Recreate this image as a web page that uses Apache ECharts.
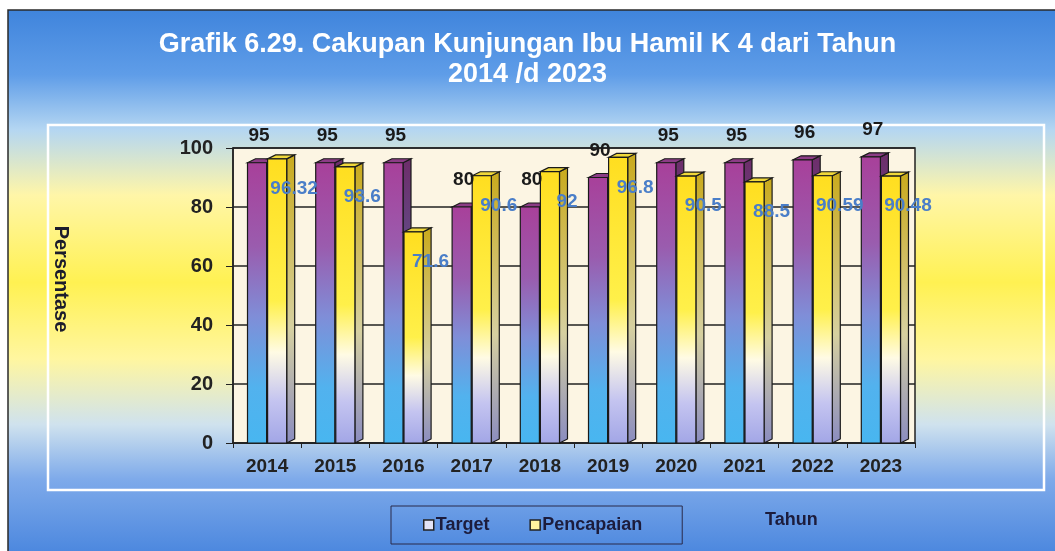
<!DOCTYPE html>
<html>
<head>
<meta charset="utf-8">
<script src="https://cdn.jsdelivr.net/npm/echarts@6/dist/echarts.min.js"></script>
<style>
  html, body { margin: 0; padding: 0; background: #fff; }
  #chart { width: 1055px; height: 551px; }
</style>
</head>
<body>
<div id="chart"></div>
<script>
// data
const years = ['2014', '2015', '2016', '2017', '2018', '2019', '2020', '2021', '2022', '2023'];
const target = [95, 95, 95, 80, 80, 90, 95, 95, 96, 97];
const pencapaian = [96.32, 93.6, 71.6, 90.6, 92, 96.8, 90.5, 88.5, 90.59, 90.48];
const yTicks = [0, 20, 40, 60, 80, 100];

const FONT = '"Liberation Sans", Arial, sans-serif';
const DX = 8, DY = 4;   // fake 3d depth

const styles = {
  target: {
    front: [[0, '#a8409a'], [0.3, '#9a5cae'], [0.55, '#7f8ed8'], [0.8, '#52b2ee'], [1, '#48b6f0']],
    side: [[0, '#6e2d6a'], [0.5, '#5a5a96'], [1, '#3a78b0']],
    top: '#8c3c86',
    label: '#1a1a1a'
  },
  pencapaian: {
    front: [[0, '#ffde20'], [0.5, '#fff04a'], [0.68, '#fffbe4'], [0.85, '#c4c4f0'], [1, '#a2a6e6']],
    side: [[0, '#c9aa1c'], [0.6, '#d6d0a0'], [1, '#8a8cc0']],
    top: '#f0d83a',
    label: '#4a7ec8'
  }
};

function grad(stops) {
  return new echarts.graphic.LinearGradient(0, 0, 0, 1, stops.map(s => ({offset: s[0], color: s[1]})));
}

function barRenderer(kind) {
  const st = styles[kind];
  return function (params, api) {
    const cat = api.value(0), val = api.value(1);
    const p = api.coord([cat, val]);
    const p0 = api.coord([cat, 0]);
    const catW = api.size([1, 0])[0];
    const bw = catW * 0.28;
    const x = kind == 'target' ? p[0] - bw - 0.5 : p[0] + 0.5;
    const yT = p[1], yB = p0[1];
    const line = {stroke: '#1a1a1a', lineWidth: 1.2};
    const children = [
      {type: 'polygon', shape: {points: [[x + bw, yT], [x + bw + DX, yT - DY], [x + bw + DX, yB - DY], [x + bw, yB]]},
        style: Object.assign({fill: grad(st.side)}, line)},
      {type: 'polygon', shape: {points: [[x, yT], [x + DX, yT - DY], [x + bw + DX, yT - DY], [x + bw, yT]]},
        style: Object.assign({fill: st.top}, line)},
      {type: 'rect', shape: {x: x, y: yT, width: bw, height: yB - yT},
        style: Object.assign({fill: grad(st.front)}, line)}
    ];
    let lx, ly;
    if (kind == 'target') { lx = x + bw / 2 + 2; ly = yT - 27; }
    else { lx = x + bw / 2 + 17; ly = yT + 30; }
    children.push({type: 'text', z2: 10, style: {
      text: String(val), x: lx, y: ly, align: 'center', verticalAlign: 'middle',
      font: 'bold 19px ' + FONT, fill: st.label
    }});
    return {type: 'group', children: children};
  };
}

const chart = echarts.init(document.getElementById('chart'));
chart.setOption({
  animation: false,
  title: {
    text: 'Grafik 6.29. Cakupan Kunjungan Ibu Hamil K 4 dari Tahun\n2014 /d 2023',
    left: 'center',
    top: 25,
    textStyle: {color: '#ffffff', fontFamily: FONT, fontWeight: 'bold', fontSize: 27, lineHeight: 30}
  },
  graphic: [
    {type: 'rect', z: -10, silent: true, shape: {x: 8, y: 10, width: 1052, height: 545},
      style: {
        fill: new echarts.graphic.LinearGradient(0, 0, 0, 1, [
          {offset: 0, color: '#3f84dc'}, {offset: 0.12, color: '#5f9de8'},
          {offset: 0.22, color: '#b4d6f2'}, {offset: 0.34, color: '#fff6a8'},
          {offset: 0.5, color: '#fff152'}, {offset: 0.64, color: '#fff6a0'},
          {offset: 0.76, color: '#cfe2ee'}, {offset: 0.86, color: '#7eaaea'},
          {offset: 1, color: '#4a86de'}
        ]),
        stroke: '#2a2a2a', lineWidth: 1.5
      }},
    {type: 'rect', z: -9, silent: true, shape: {x: 48, y: 125, width: 996, height: 365},
      style: {fill: 'none', stroke: '#ffffff', lineWidth: 2.5}},
    {type: 'text', left: 765, top: 511, style: {text: 'Tahun', font: 'bold 18px ' + FONT, fill: '#1c1c3c'}},
    {type: 'text', x: 61, y: 279, rotation: -Math.PI / 2,
      style: {text: 'Persentase', font: 'bold 20px ' + FONT, fill: '#1c1c2c', align: 'center', verticalAlign: 'middle'}}
  ],
  legend: {
    left: 391, top: 506,
    padding: [10, 40, 10, 32],
    itemGap: 40,
    itemWidth: 10, itemHeight: 10,
    icon: 'rect',
    borderColor: '#2a2a4a', borderWidth: 1,
    textStyle: {fontFamily: FONT, fontWeight: 'bold', fontSize: 18, color: '#1c1c3c', padding: [0, 0, 0, -3]},
    data: [
      {name: 'Target', itemStyle: {color: '#e4e4f6', borderColor: '#222', borderWidth: 1.5}},
      {name: 'Pencapaian', itemStyle: {color: '#fff2a0', borderColor: '#222', borderWidth: 1.5}}
    ]
  },
  grid: {
    left: 233, right: 140, top: 148, bottom: 108,
    show: true, backgroundColor: '#fcf5e3', borderColor: '#222', borderWidth: 1.5
  },
  xAxis: {
    type: 'category',
    data: years,
    axisLine: {lineStyle: {color: '#222', width: 1.5}},
    axisTick: {show: true, length: 5, lineStyle: {color: '#222'}},
    axisLabel: {margin: 14, fontFamily: FONT, fontWeight: 'bold', fontSize: 19, color: '#222'}
  },
  yAxis: {
    type: 'value',
    min: yTicks[0], max: yTicks[yTicks.length - 1], interval: 20,
    axisLine: {show: true, lineStyle: {color: '#222', width: 1.5}},
    axisTick: {show: true, length: 7, lineStyle: {color: '#222'}},
    axisLabel: {margin: 20, fontFamily: FONT, fontWeight: 'bold', fontSize: 20, color: '#222'},
    splitLine: {lineStyle: {color: '#222', width: 1.5}}
  },
  series: [
    {name: 'Target', type: 'custom', renderItem: barRenderer('target'),
      itemStyle: {color: '#e4e4f6'}, encode: {x: 0, y: 1},
      data: target.map((v, i) => [i, v])},
    {name: 'Pencapaian', type: 'custom', renderItem: barRenderer('pencapaian'),
      itemStyle: {color: '#fff2a0'}, encode: {x: 0, y: 1},
      data: pencapaian.map((v, i) => [i, v])}
  ]
});
</script>
</body>
</html>
